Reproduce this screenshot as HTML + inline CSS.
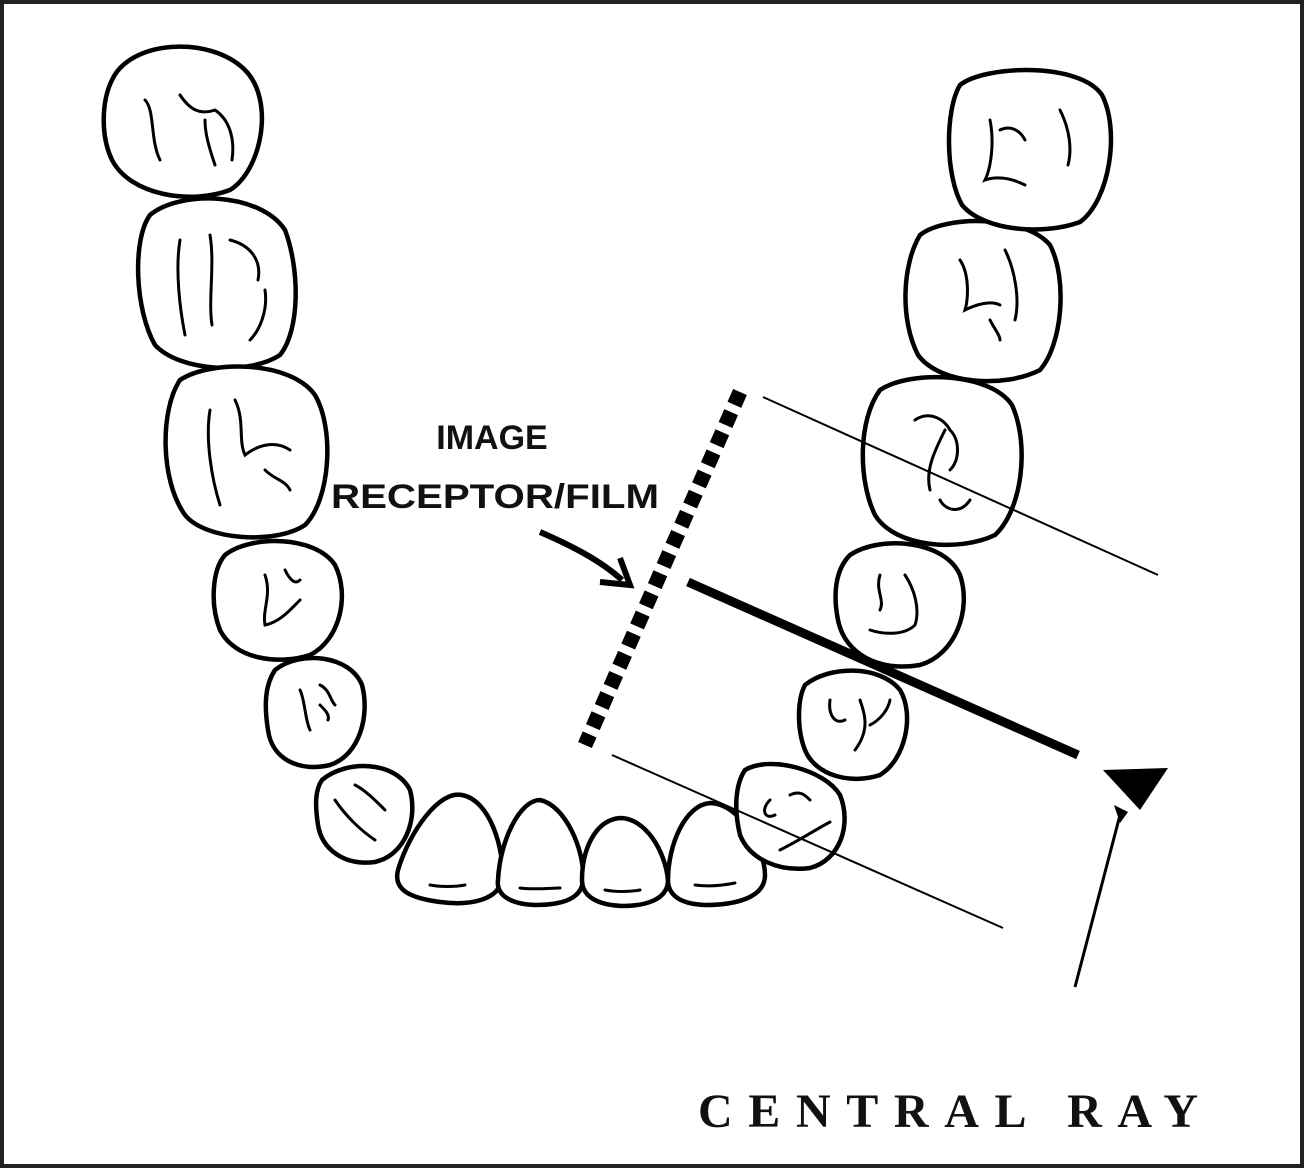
<!DOCTYPE html>
<html><head><style>
html,body{margin:0;padding:0;background:#fff;}
svg{display:block;}
</style></head><body>
<svg width="1304" height="1168" viewBox="0 0 1304 1168" xmlns="http://www.w3.org/2000/svg">
<rect x="2" y="2" width="1300" height="1164" fill="#fff" stroke="#222" stroke-width="4"/>
<g fill="#fff" stroke="#000" stroke-width="4.5" stroke-linejoin="round">
<!-- left molars/premolars -->
<path d="M112,80 C130,40 210,35 245,70 C275,100 262,170 230,190 C190,205 130,195 112,160 C100,135 102,100 112,80Z"/>
<path d="M150,215 C180,190 260,192 285,230 C300,270 300,330 280,355 C250,375 180,372 155,345 C135,310 132,240 150,215Z"/>
<path d="M180,380 C210,360 290,360 315,395 C335,430 330,500 305,525 C275,545 205,540 185,515 C160,480 160,410 180,380Z"/>
<path d="M225,555 C250,535 315,535 335,565 C350,595 340,640 310,655 C280,665 235,660 220,630 C210,605 212,570 225,555Z"/>
<path d="M275,670 C300,650 350,655 362,685 C370,715 360,755 330,765 C300,772 272,760 268,730 C264,705 265,685 275,670Z"/>
<path d="M322,780 C345,760 395,760 410,790 C418,820 405,855 375,862 C345,866 322,850 318,825 C315,805 315,790 322,780Z"/>
<!-- incisors -->
<path d="M398,870 C410,830 440,790 462,795 C490,800 505,850 502,880 C498,900 470,906 440,902 C410,898 393,890 398,870Z"/>
<path d="M498,880 C500,840 520,800 540,800 C565,805 585,850 583,880 C582,900 560,905 535,905 C510,904 496,895 498,880Z"/>
<path d="M582,880 C582,850 595,820 620,818 C645,818 665,850 668,880 C668,900 645,906 622,906 C600,905 582,898 582,880Z"/>
<path d="M668,880 C668,845 685,805 710,803 C740,803 765,850 765,875 C765,898 735,905 705,905 C680,904 668,895 668,880Z"/>
<!-- right -->
<path d="M745,770 C770,755 825,770 840,795 C852,825 840,860 810,868 C780,872 750,860 740,835 C734,810 735,785 745,770Z"/>
<path d="M805,685 C830,665 880,665 900,690 C915,715 905,760 880,775 C850,785 815,775 805,750 C797,730 797,700 805,685Z"/>
<path d="M850,555 C880,535 945,540 960,575 C972,610 955,655 920,665 C880,672 845,655 838,620 C833,595 835,570 850,555Z"/>
<path d="M880,390 C910,370 990,372 1012,405 C1030,445 1022,510 995,535 C960,552 895,548 875,515 C858,480 858,420 880,390Z"/>
<path d="M920,235 C945,215 1025,215 1050,245 C1068,280 1062,345 1040,370 C1005,388 940,385 918,355 C900,320 902,265 920,235Z"/>
<path d="M960,85 C985,65 1080,62 1102,95 C1120,130 1110,200 1080,222 C1045,235 985,232 962,205 C945,175 945,110 960,85Z"/>
</g>
<!-- internal squiggles -->
<g fill="none" stroke="#000" stroke-width="3" stroke-linecap="round">
<path d="M145,100 C155,110 150,140 160,160 M180,95 C190,110 200,115 215,110 C230,120 235,140 232,160 M205,120 C205,135 210,150 215,165"/>
<path d="M180,240 C175,270 180,310 185,335 M210,235 C215,265 208,300 212,325 M230,240 C250,245 262,260 258,280 M265,290 C268,310 260,330 250,340"/>
<path d="M210,410 C205,440 212,480 220,505 M235,400 C245,420 238,440 245,455 C258,445 275,440 290,450 M265,470 C275,480 285,480 290,490"/>
<path d="M265,575 C272,595 262,610 265,625 C280,622 290,610 300,600 M285,570 C290,580 295,585 300,580"/>
<path d="M300,690 C305,700 305,720 310,730 M320,685 C330,690 330,700 335,705 M320,705 C325,710 330,715 328,720"/>
<path d="M335,800 C345,815 360,830 375,840 M355,785 C365,790 375,800 385,810"/>
<path d="M430,885 C440,887 455,887 465,885 M520,888 C535,890 550,888 560,888 M605,890 C615,892 630,892 640,890 M695,885 C710,887 725,885 735,883"/>
<path d="M770,800 C760,810 765,820 775,815 M790,795 C800,790 805,795 810,800 M780,850 C800,840 815,830 830,822"/>
<path d="M830,700 C828,715 835,725 845,720 M860,700 C865,715 870,730 855,750 M870,725 C880,720 888,710 890,700"/>
<path d="M880,575 C875,590 885,600 880,610 M905,575 C915,590 920,610 915,625 C905,635 885,635 870,630"/>
<path d="M915,420 C930,410 945,420 950,430 C960,440 960,460 950,470 M945,430 C935,450 925,470 930,490 M940,500 C945,510 960,515 970,500"/>
<path d="M960,260 C970,275 968,300 965,310 C975,305 990,300 1000,305 M1005,250 C1015,270 1020,300 1015,320 M990,320 C995,330 1000,335 1000,340"/>
<path d="M990,120 C995,145 990,170 985,180 C1000,175 1015,180 1025,185 M1060,110 C1070,130 1072,150 1068,165 M1000,130 C1010,125 1020,130 1025,140"/>
</g>
<!-- film -->
<line x1="740" y1="392" x2="585" y2="745" stroke="#000" stroke-width="15" stroke-dasharray="14 8"/>
<!-- rays -->
<line x1="763" y1="397" x2="1158" y2="575" stroke="#000" stroke-width="2"/>
<line x1="612" y1="755" x2="1003" y2="928" stroke="#000" stroke-width="2"/>
<line x1="688" y1="582" x2="1078" y2="755" stroke="#000" stroke-width="9"/>
<polygon points="1103,770 1168,768 1140,810" fill="#000"/>
<line x1="1075" y1="987" x2="1120" y2="815" stroke="#000" stroke-width="3"/>
<polygon points="1114,805 1128,812 1120,823" fill="#000" transform="translate(0,0)"/>
<!-- film arrow -->
<path d="M540,532 C570,545 600,560 622,580" fill="none" stroke="#000" stroke-width="6"/>
<path d="M600,582 L630,585 L620,558" fill="none" stroke="#000" stroke-width="6" stroke-linejoin="miter"/>
<g font-family="Liberation Sans, sans-serif" font-weight="bold" font-size="34" fill="#111" text-anchor="middle">
<text x="492" y="449">IMAGE</text>
<text x="495" y="508" textLength="328" lengthAdjust="spacingAndGlyphs">RECEPTOR/FILM</text>
</g>
<text x="698" y="1127" font-family="Liberation Serif, serif" font-weight="bold" font-size="48" fill="#111" textLength="500" lengthAdjust="spacing">CENTRAL RAY</text>
</svg>
</body></html>
